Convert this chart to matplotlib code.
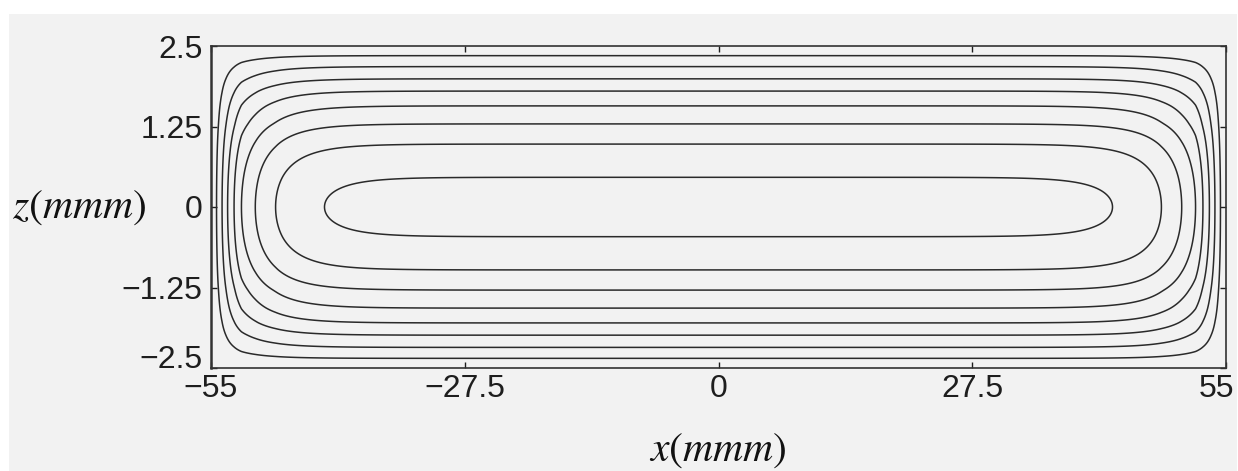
import numpy as np
import matplotlib.pyplot as plt
import matplotlib.transforms as mtransforms
from matplotlib.patches import Rectangle

# normalised velocity levels and where each contour crosses the centre lines
levels = [0.116, 0.237, 0.359, 0.480, 0.602, 0.723, 0.844, 0.966]
z_cross = [2.35, 2.18, 1.99, 1.80, 1.57, 1.29, 0.977, 0.461]   # along x = 0
x_cross = [54.4, 53.8, 53.2, 52.5, 51.7, 50.2, 48.0, 42.7]    # along z = 0

x_half = 55.0
z_half = 2.5

x_ticks = [-55, -27.5, 0, 27.5, 55]
x_ticklabels = ['−55', '−27.5', '0', '27.5', '55']
z_ticks = [-2.5, -1.25, 0, 1.25, 2.5]
z_ticklabels = ['−2.5', '−1.25', '0', '1.25', '2.5']


def depth_profile(z):
    # 1 - u against (z/h)^2, through the crossings on the vertical centre line
    s = (z / z_half) ** 2
    s_k = np.r_[0.0, (np.array(z_cross[::-1]) / z_half) ** 2, 1.0]
    v_k = np.r_[0.0, 1 - np.array(levels[::-1]), 1.0]
    return 1 - np.interp(s, s_k, v_k)


def side_profile(x):
    # log(1 - u) against distance from the side wall, linear past the last crossing
    d = x_half - np.abs(x)
    d_k = np.r_[0.0, x_half - np.array(x_cross)]
    g_k = np.r_[0.0, np.log(1 - np.array(levels))]
    slope = (g_k[-1] - g_k[-2]) / (d_k[-1] - d_k[-2])
    g = np.interp(d, d_k, g_k)
    far = d > d_k[-1]
    g[far] = g_k[-1] + slope * (d[far] - d_k[-1])
    return 1 - np.exp(g)


x = np.linspace(-x_half, x_half, 2201)
z = np.linspace(-z_half, z_half, 801)
u = np.outer(depth_profile(z), side_profile(x))

plt.rcParams['font.family'] = ['Liberation Sans', 'DejaVu Sans']
plt.rcParams['mathtext.fontset'] = 'stix'

W, H = 1238, 471
fig = plt.figure(figsize=(W / 100, H / 100), dpi=100, facecolor='white')
bg = '#f2f2f2'
fig.patches.append(Rectangle((9 / W, 0), 1228 / W, 457 / H, transform=fig.transFigure,
                             facecolor=bg, edgecolor='none', zorder=-5))

ax = fig.add_axes([211 / W, 103 / H, 1015 / W, 322 / H])
ax.set_facecolor(bg)
ax.contour(x, z, u, levels=levels, colors='#2a2a2a', linewidths=1.1)

ax.set_xlim(-x_half, x_half)
ax.set_ylim(-z_half, z_half)
ax.set_xticks(x_ticks)
ax.set_xticklabels(x_ticklabels)
ax.set_yticks(z_ticks)
ax.set_yticklabels(z_ticklabels)
ax.tick_params(direction='in', length=4, width=1, top=True, right=True,
               labelsize=23, colors='#1e1e1e')
ax.tick_params(axis='x', pad=4)
ax.tick_params(axis='y', pad=6)
for sp in ax.spines.values():
    sp.set_color('#333333')
    sp.set_linewidth(1.2)
ax.spines['left'].set_linewidth(1.8)

# lift the bottom z label clear of the x labels, pull the last x label inside
lift = mtransforms.ScaledTranslation(0, 0.11, fig.dpi_scale_trans)
lab = ax.get_yticklabels()[0]
lab.set_transform(lab.get_transform() + lift)
pull = mtransforms.ScaledTranslation(-0.10, 0, fig.dpi_scale_trans)
lab = ax.get_xticklabels()[-1]
lab.set_transform(lab.get_transform() + pull)

fig.text(79 / W, 1 - 207 / H, '$z(mmm)$', ha='center', va='center', fontsize=30, color='#111111')
fig.text(718 / W, 1 - 450 / H, '$x(mmm)$', ha='center', va='center', fontsize=30, color='#111111')

fig.savefig('out.png', dpi=100, facecolor='white')
